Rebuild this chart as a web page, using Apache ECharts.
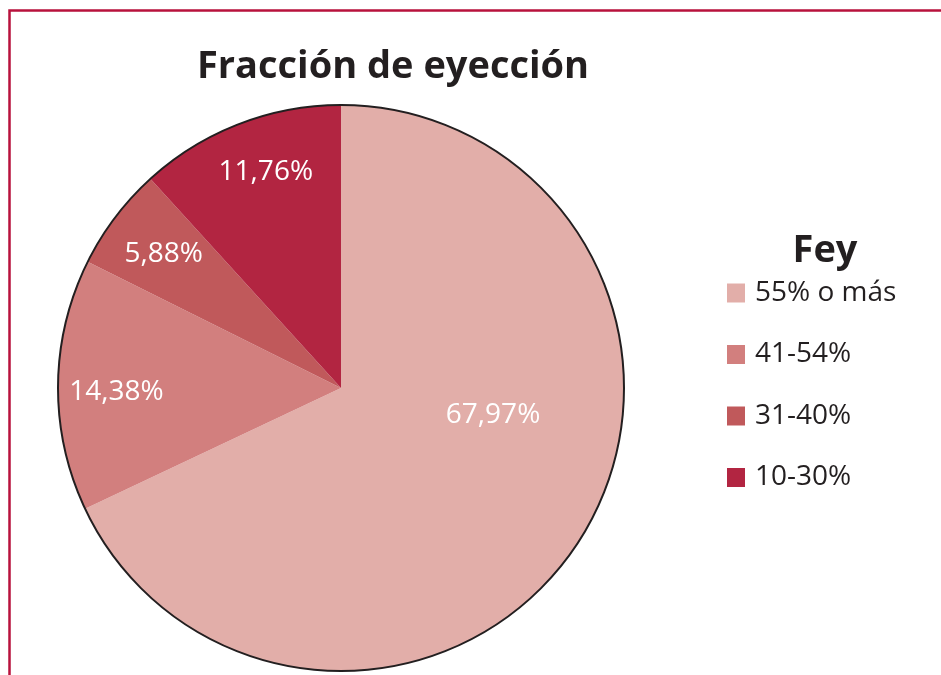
<!DOCTYPE html>
<html>
<head>
<meta charset="utf-8">
<script src="https://cdn.jsdelivr.net/npm/echarts@6/dist/echarts.min.js"></script>
<style>
  html, body { margin: 0; padding: 0; background: #fff; }
  #chart { width: 941px; height: 675px; }
</style>
</head>
<body>
<div id="chart"></div>
<script>
const categories = ['55% o más', '41-54%', '31-40%', '10-30%'];
const values = [67.97, 14.38, 5.88, 11.76];
const colors = ['#e2aea9', '#d27f7e', '#c0595b', '#b22541'];
// nudges so the labels sit where the original placed them
const labelOffsets = [[30, -50], [-80, 6], [-62, -47], [-23, -81]];

const chart = echarts.init(document.getElementById('chart'));

chart.setOption({
  backgroundColor: '#fff',
  animation: false,
  graphic: [
    {
      type: 'rect',
      shape: { x: 9.5, y: 10.5, width: 1200, height: 1200 },
      style: { fill: 'none', stroke: '#b8123c', lineWidth: 2.5 },
      silent: true
    },
    {
      type: 'text',
      x: 393, y: 67,
      style: {
        text: 'Fracción de eyección',
        fill: '#231f20',
        font: 'bold 38px "Open Sans"',
        textAlign: 'center',
        textVerticalAlign: 'middle'
      }
    },
    {
      type: 'text',
      x: 825, y: 251,
      style: {
        text: 'Fey',
        fill: '#231f20',
        font: 'bold 38px "Open Sans"',
        textAlign: 'center',
        textVerticalAlign: 'middle'
      }
    }
  ],
  legend: {
    orient: 'vertical',
    left: 727,
    top: 278,
    padding: 0,
    data: categories,
    icon: 'rect',
    itemWidth: 18,
    itemHeight: 19,
    itemGap: 31.5,
    textStyle: {
      fontFamily: 'Open Sans',
      fontSize: 28,
      color: '#231f20',
      lineHeight: 30,
      padding: [0, 0, 0, 5]
    }
  },
  series: [
    {
      type: 'pie',
      center: [341, 388],
      radius: 283,
      startAngle: 90,
      clockwise: true,
      silent: true,
      data: categories.map((name, i) => ({
        name,
        value: values[i],
        itemStyle: { color: colors[i] },
        label: { offset: labelOffsets[i] }
      })),
      label: {
        show: true,
        position: 'inside',
        color: '#fff',
        fontFamily: 'Open Sans',
        fontSize: 28,
        formatter: p => p.value.toFixed(2).replace('.', ',') + '%'
      },
      labelLine: { show: false }
    },
    {
      type: 'pie',
      center: [341, 388],
      radius: 283,
      silent: true,
      data: [{ name: 'outline', value: 1 }],
      itemStyle: { color: 'rgba(0,0,0,0)', borderColor: '#231f20', borderWidth: 2 },
      label: { show: false },
      labelLine: { show: false }
    }
  ]
});
</script>
</body>
</html>
